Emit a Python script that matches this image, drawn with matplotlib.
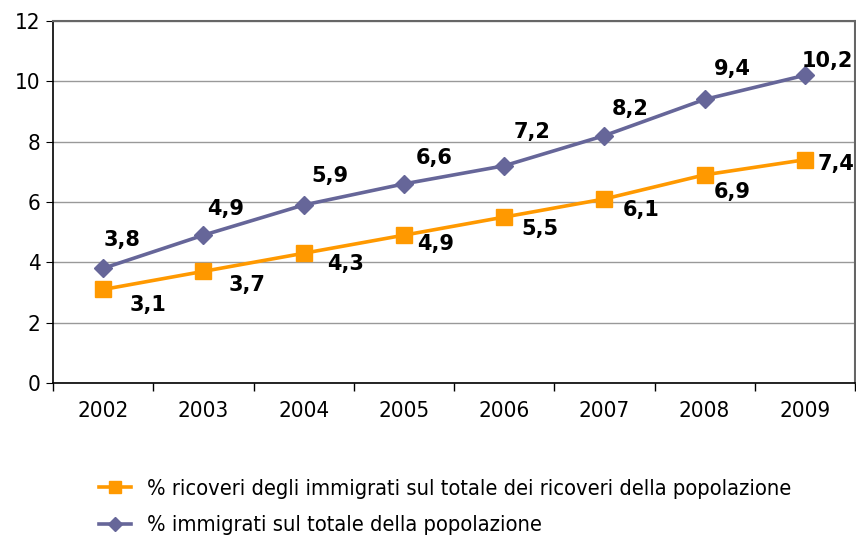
import matplotlib.pyplot as plt
import numpy as np

# Data
years = ['2002', '2003', '2004', '2005', '2006', '2007', '2008', '2009']
ricoveri = [3.1, 3.7, 4.3, 4.9, 5.5, 6.1, 6.9, 7.4]
immigrati = [3.8, 4.9, 5.9, 6.6, 7.2, 8.2, 9.4, 10.2]
label_ricoveri = '% ricoveri degli immigrati sul totale dei ricoveri della popolazione'
label_immigrati = '% immigrati sul totale della popolazione'

# label offsets in pixels (dx, dy), as placed in the original
off_ricoveri = [(45, -16), (44, -14), (42, -11), (32, -9), (36, -12), (37, -11), (28, -17), (31, -4)]
off_immigrati = [(19, 28), (22, 26), (26, 29), (30, 26), (28, 34), (26, 27), (28, 30), (22, 14)]

plt.rcParams['font.family'] = ['DejaVu Sans']
plt.rcParams['font.stretch'] = 'condensed'

orange = '#FF9900'
purple = '#666699'

fig = plt.figure(figsize=(8.56, 5.38), dpi=100)
ax = fig.add_axes([53 / 856, 1 - 383 / 538, 802 / 856, 362 / 538])

x = np.arange(len(years))
ax.plot(x, ricoveri, color=orange, lw=2.6, marker='s', ms=11, label=label_ricoveri, zorder=3)
ax.plot(x, immigrati, color=purple, lw=2.6, marker='D', ms=9.5, label=label_immigrati, zorder=3)

# Data labels
for xi, v, (dx, dy) in zip(x, ricoveri, off_ricoveri):
    ax.annotate(f'{v:.1f}'.replace('.', ','), (xi, v), xytext=(dx, dy), textcoords='offset pixels',
                ha='center', va='center', fontsize=15, fontweight='bold', family='DejaVu Sans',
                fontstretch='normal')
for xi, v, (dx, dy) in zip(x, immigrati, off_immigrati):
    ax.annotate(f'{v:.1f}'.replace('.', ','), (xi, v), xytext=(dx, dy), textcoords='offset pixels',
                ha='center', va='center', fontsize=15, fontweight='bold', family='DejaVu Sans',
                fontstretch='normal')

# Axes setup
ax.set_xlim(-0.5, len(years) - 0.5)
ax.set_ylim(0, 12)
ax.set_yticks(range(0, 13, 2))
ax.set_xticks(x)
ax.set_xticklabels(years)
ax.set_xticks(np.arange(-0.5, len(years)), minor=True)
ax.tick_params(axis='x', which='major', length=0, pad=13, labelsize=16)
ax.tick_params(axis='x', which='minor', length=6, direction='out', width=1)
ax.tick_params(axis='y', length=5, direction='out', labelsize=16, pad=4)
ax.grid(axis='y', color='#999999', lw=1)
ax.set_axisbelow(True)

for side in ['left', 'bottom']:
    ax.spines[side].set_color('black')
    ax.spines[side].set_linewidth(1.2)
for side in ['top', 'right']:
    ax.spines[side].set_color('#666666')
    ax.spines[side].set_linewidth(1.5)

# Legend below the plot
fig.legend(loc='upper left', bbox_to_anchor=(99 / 856, 1 - 479 / 538), frameon=False,
           fontsize=15.7, handlelength=1.45, handletextpad=0.75, labelspacing=0.75,
           borderpad=0, borderaxespad=0, markerscale=0.75)

plt.savefig('out.png', dpi=100)
